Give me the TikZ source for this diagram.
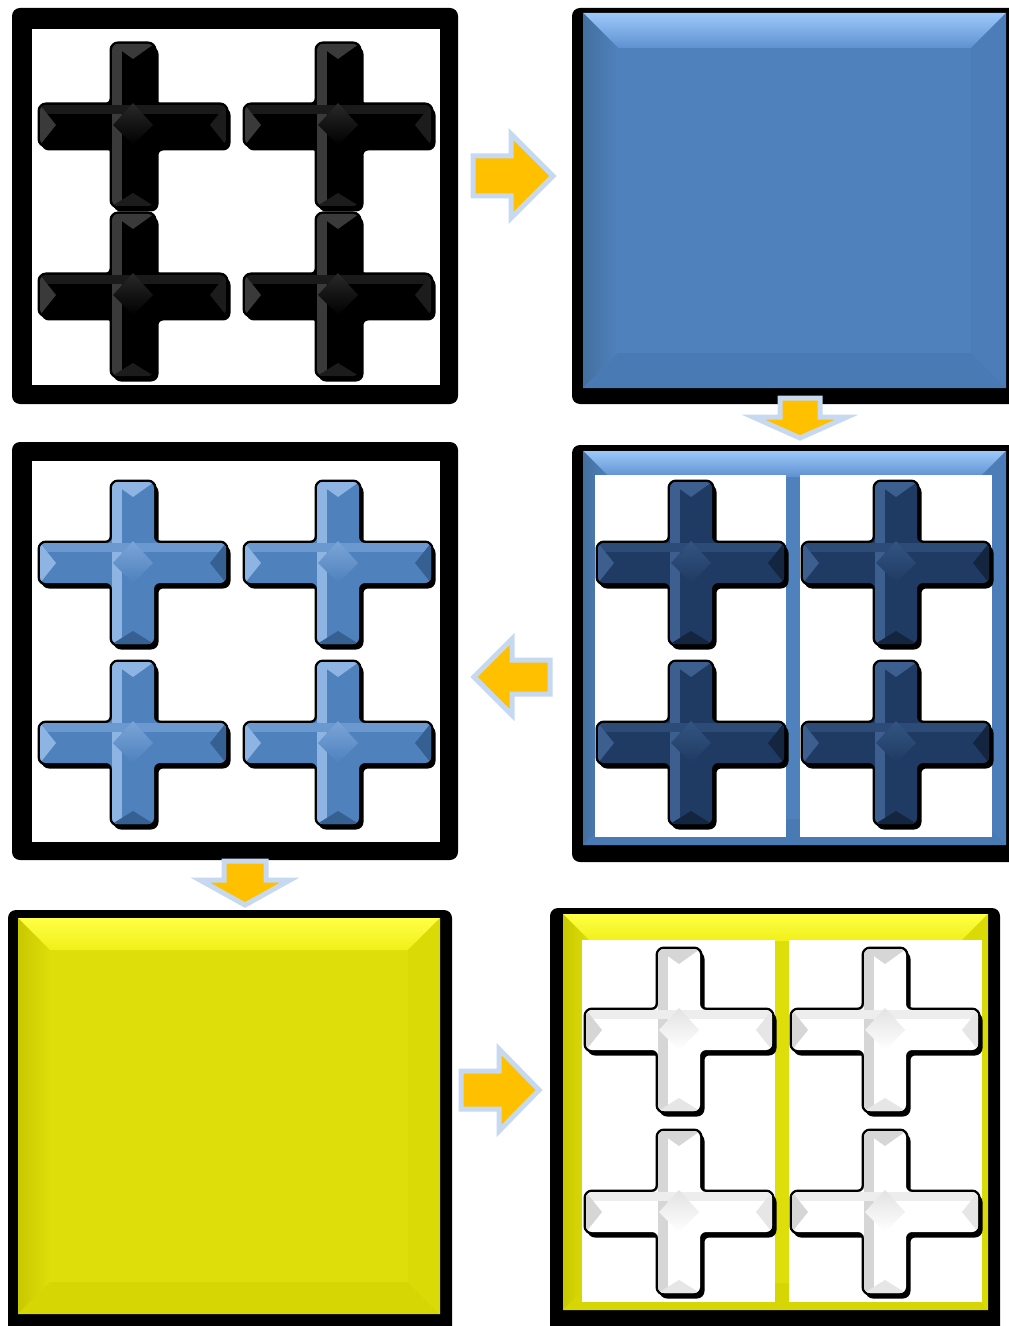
\documentclass[tikz,border=0pt]{standalone}
\usetikzlibrary{calc}

\definecolor{arrowfill}{HTML}{FFC000}
\definecolor{arrowline}{HTML}{C6D9F1}
% blue bevel
\definecolor{skybase}{HTML}{4F81BD}
\definecolor{skyhi}{HTML}{9CC8FA}
\definecolor{skytop}{HTML}{5F91D0}
\definecolor{skyleft}{HTML}{44709F}
\definecolor{skybottom}{HTML}{4A7AB4}
\definecolor{skyright}{HTML}{4C7DB8}
% yellow bevel
\definecolor{lemonbase}{HTML}{DEDE0A}
\definecolor{lemonhi}{HTML}{FFFF45}
\definecolor{lemontop}{HTML}{F0F01A}
\definecolor{lemonleft}{HTML}{C8C800}
\definecolor{lemonbottom}{HTML}{D6D604}
\definecolor{lemonright}{HTML}{DADA07}
% crosses
\definecolor{crossgrey}{HTML}{3A3A3A}
\definecolor{crossdark}{HTML}{1C1C1C}
\definecolor{crossblue}{HTML}{4F81BD}
\definecolor{crossbluehi}{HTML}{8DB4E2}
\definecolor{crossbluelo}{HTML}{376092}
\definecolor{crossnavy}{HTML}{1F3B63}
\definecolor{crossnavyhi}{HTML}{3C5F8F}
\definecolor{crossnavylo}{HTML}{14263F}
\definecolor{crosswhitehi}{HTML}{D6D6D6}
\definecolor{crosswhitelo}{HTML}{E6E6E6}

\newcommand{\plusshape}{(-21,-81) -- (21,-81) -- (21,-20) -- (93,-20) -- (93,20) -- (21,20) -- (21,81) -- (-21,81) -- (-21,20) -- (-93,20) -- (-93,-20) -- (-21,-20) -- cycle}

% x1 y1 x2 y2 bevel colourprefix
\newcommand{\bevelpanel}[6]{%
  \fill[#6base] (#1,#2) rectangle (#3,#4);
  \shade[top color=#6hi, bottom color=#6top] (#1,#2) -- (#3,#2) -- ({#3-#5},{#2+#5}) -- ({#1+#5},{#2+#5}) -- cycle;
  \shade[left color=#6left, right color=#6base] (#1,#2) -- ({#1+#5},{#2+#5}) -- ({#1+#5},{#4-#5}) -- (#1,#4) -- cycle;
  \fill[#6bottom] (#1,#4) -- ({#1+#5},{#4-#5}) -- ({#3-#5},{#4-#5}) -- (#3,#4) -- cycle;
  \fill[#6right] (#3,#2) -- (#3,#4) -- ({#3-#5},{#4-#5}) -- ({#3-#5},{#2+#5}) -- cycle;
}

% x y angle bodylength headlength bodyhalf headhalf
\newcommand{\blockarrow}[7]{%
  \begin{scope}[shift={(#1,#2)}, rotate=#3]
    \filldraw[arrowbody] (0,-#6) -- (#4,-#6) -- (#4,-#7) -- ({#4+#5},0) -- (#4,#7) -- (#4,#6) -- (0,#6) -- cycle;
  \end{scope}}

\tikzset{
  panelframe/.style={fill=black, rounded corners=4pt},
  arrowbody/.style={fill=arrowfill, draw=arrowline, line width=2.5pt, line join=miter},
  pics/plus/.style n args={3}{code={
    \filldraw[black, line width=1.5pt, rounded corners=3pt, shift={(3,4)}] \plusshape;
    \draw[black, line width=2.5pt, rounded corners=3pt] \plusshape;
    \fill[#1, rounded corners=3pt] \plusshape;
    \begin{scope}
      \clip[rounded corners=3pt] \plusshape;
      \fill[#2] (-21,-81) rectangle (-11,81);
      \fill[#2!45!#1] (-93,-20) rectangle (93,-11);
      \fill[#2] (-21,-81) -- (21,-81) -- (0,-66) -- cycle;
      \fill[#2] (-93,-20) -- (-93,20) -- (-77,0) -- cycle;
      \fill[#3] (93,-20) -- (93,20) -- (77,0) -- cycle;
      \fill[#3] (-21,81) -- (21,81) -- (0,68) -- cycle;
      \shade[top color=#2!70!#1, bottom color=#1] (0,-22) -- (20,0) -- (0,20) -- (-20,0) -- cycle;
    \end{scope}
  }},
}

\begin{document}
\begin{tikzpicture}[x=0.5pt, y=-0.5pt]
  \useasboundingbox[fill=white] (0,0) rectangle (1008,1326);

  % panel 1: black crosses
  \fill[panelframe] (12,8) rectangle (458,404);
  \fill[white] (32,29) rectangle (440,385);
  \pic at (133,125) {plus={black}{crossgrey}{crossdark}};
  \pic at (338,125) {plus={black}{crossgrey}{crossdark}};
  \pic at (133,295) {plus={black}{crossgrey}{crossdark}};
  \pic at (338,295) {plus={black}{crossgrey}{crossdark}};

  % panel 2: blue plate
  \fill[panelframe] (572,8) rectangle (1020,404);
  \bevelpanel{583}{13}{1006}{388}{35}{sky}

  % panel 3: blue crosses
  \fill[panelframe] (12,442) rectangle (458,860);
  \fill[white] (32,461) rectangle (440,842);
  \pic at (133,563) {plus={crossblue}{crossbluehi}{crossbluelo}};
  \pic at (338,563) {plus={crossblue}{crossbluehi}{crossbluelo}};
  \pic at (133,743) {plus={crossblue}{crossbluehi}{crossbluelo}};
  \pic at (338,743) {plus={crossblue}{crossbluehi}{crossbluelo}};

  % panel 4: blue frame with navy crosses
  \fill[panelframe] (572,445) rectangle (1020,862);
  \bevelpanel{583}{451}{1006}{845}{26}{sky}
  \fill[white] (595,475) rectangle (786,837);
  \fill[white] (800,475) rectangle (992,837);
  \pic at (691,563) {plus={crossnavy}{crossnavyhi}{crossnavylo}};
  \pic at (896,563) {plus={crossnavy}{crossnavyhi}{crossnavylo}};
  \pic at (691,743) {plus={crossnavy}{crossnavyhi}{crossnavylo}};
  \pic at (896,743) {plus={crossnavy}{crossnavyhi}{crossnavylo}};

  % panel 5: yellow plate
  \fill[panelframe] (8,910) rectangle (452,1340);
  \bevelpanel{18}{918}{440}{1314}{32}{lemon}

  % panel 6: yellow frame with white crosses
  \fill[panelframe] (550,908) rectangle (1000,1340);
  \bevelpanel{563}{914}{988}{1310}{27}{lemon}
  \fill[white] (582,940) rectangle (775,1302);
  \fill[white] (789,940) rectangle (982,1302);
  \pic at (679,1030) {plus={white}{crosswhitehi}{crosswhitelo}};
  \pic at (885,1030) {plus={white}{crosswhitehi}{crosswhitelo}};
  \pic at (679,1212) {plus={white}{crosswhitehi}{crosswhitelo}};
  \pic at (885,1212) {plus={white}{crosswhitehi}{crosswhitelo}};

  % arrows between the steps
  \blockarrow{473}{176}{0}{38}{42}{20}{42}
  \blockarrow{800}{398}{-90}{19}{21}{20}{47}
  \blockarrow{550}{677}{180}{38}{38}{17}{38}
  \blockarrow{245}{861}{-90}{19}{25}{21}{45}
  \blockarrow{461}{1090}{0}{38}{40}{19}{41}
\end{tikzpicture}
\end{document}
